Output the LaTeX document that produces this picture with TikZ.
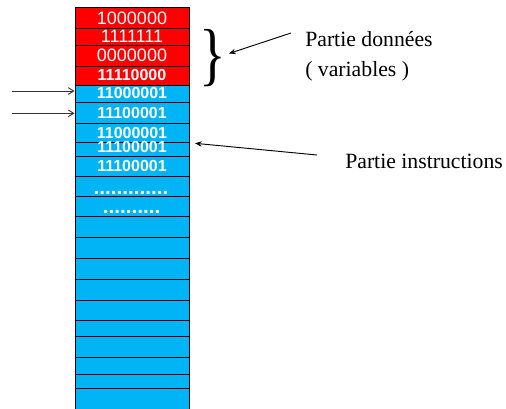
\documentclass[tikz,border=0pt]{standalone}
\usepackage{fontspec}
\setmainfont{Liberation Serif}
\newfontfamily\cellfont{Liberation Sans}
\usetikzlibrary{arrows.meta}

\definecolor{memred}{RGB}{255,0,0}
\definecolor{memblue}{RGB}{0,180,245}

\tikzset{
  cell/.style={draw=black, line width=0.75pt, minimum width=85.5pt, inner sep=0pt},
  plainbits/.style={text=white, inner sep=0pt, font=\cellfont\fontsize{13.5}{14}\selectfont},
  boldbits/.style={text=white, inner sep=0pt, font=\cellfont\bfseries\fontsize{12}{13}\selectfont},
  dotrow/.style={text=white, inner sep=0pt, anchor=base, font=\cellfont\bfseries\fontsize{15.5}{16}\selectfont},
  lbl/.style={inner sep=0pt, anchor=base west, font=\fontsize{16.3}{18}\selectfont},
  pointer/.style={draw=black!80, line width=0.7pt, -{Straight Barb[length=4pt,width=5pt]}},
  callout/.style={draw=black, line width=0.7pt, -{Stealth[length=5pt,width=4pt]}}
}

\begin{document}
\begin{tikzpicture}[x=0.75pt, y=-0.75pt]
  \useasboundingbox (0,0) rectangle (506,408);

  % memory column: one rectangle per word (top / bottom in px)
  \foreach \n/\t/\b/\c in {
      r1/7.3/28.3/memred, r2/28.3/45/memred, r3/45/66/memred, r4/66/85.7/memred,
      r5/85.7/102.7/memblue, r6/102.7/123.3/memblue, r7/123.3/142.3/memblue,
      r8/142.3/156.7/memblue, r9/156.7/176.7/memblue, r10/176.7/196.7/memblue,
      r11/196.7/216.7/memblue, r12/216.7/237.7/memblue, r13/237.7/258.3/memblue,
      r14/258.3/279.3/memblue, r15/279.3/300/memblue, r16/300/320.7/memblue,
      r17/320.7/336.7/memblue, r18/336.7/357.3/memblue, r19/357.3/374.3/memblue,
      r20/374.3/388.3/memblue, r21/388.3/414/memblue} {
    \pgfmathsetmacro\hh{(\b-\t)*0.75}
    \pgfmathsetmacro\mm{(\t+\b)/2}
    \node[cell, fill=\c, minimum height=\hh pt] (\n) at (132,\mm) {};
  }

  % contents of the words
  \node[plainbits] (t1) at (132,18.3) {1000000};
  \node[plainbits] (t2) at (132,36)   {1111111};
  \node[plainbits] (t3) at (132,55)   {0000000};
  \node[boldbits]  (t4) at (132,75)   {11110000};
  \node[boldbits]  (t5) at (132,92.7) {11000001};
  \node[boldbits]  (t6) at (132,113.3) {11100001};
  \node[boldbits]  (t7) at (132,132.7) {11000001};
  \node[boldbits]  (t8) at (132,146.7) {11100001};
  \node[boldbits]  (t9) at (132,165.7) {11100001};
  \node[dotrow]    (d1) at (131,194)   {.............};
  \node[dotrow]    (d2) at (131.5,213.5) {..........};

  % pointers on the left
  \coordinate (p1) at (12,91);
  \coordinate (p2) at (12,113.3);
  \draw[pointer] (p1) -- (p1 -| r5.west);
  \draw[pointer] (p2) -- (p2 -| r6.west);

  % brace over the data words
  \node[inner sep=0pt] (brace) at (212.5,58) {\resizebox*{20pt}{43pt}{\}}};

  % labels
  \node[lbl] (donnees)   at (305,46.7)  {Partie données};
  \node[lbl] (variables) at (305,76.5)  {( variables )};
  \node[lbl] (instr)     at (345,168.3) {Partie instructions};

  % callout arrows
  \coordinate (ds) at (291,33);
  \coordinate (de) at (229,53.5);
  \coordinate (is) at (317,155);
  \coordinate (ie) at (195,143.3);
  \draw[callout] (ds) -- (de);
  \draw[callout] (is) -- (ie);
\end{tikzpicture}
\end{document}
